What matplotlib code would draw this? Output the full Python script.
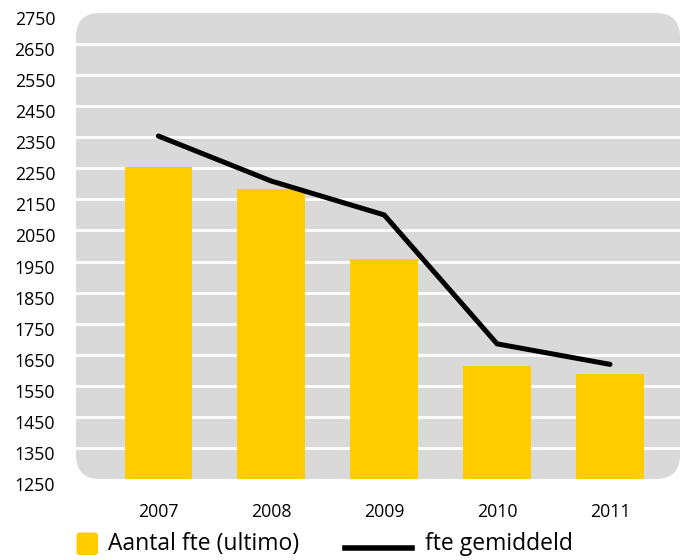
import matplotlib
matplotlib.use("Agg")
import matplotlib.pyplot as plt
from matplotlib.patches import FancyBboxPatch
from matplotlib.lines import Line2D
from matplotlib.transforms import ScaledTranslation

# fte figures per year
years = ["2007", "2008", "2009", "2010", "2011"]
fte_ultimo = [2253, 2183, 1958, 1615, 1589]
fte_gemiddeld = [2354, 2209, 2100, 1685, 1619]
y_ticks = list(range(1250, 2751, 100))

YELLOW = "#FFCC00"
GREY = "#D9D9D9"

plt.rcParams["font.family"] = ["Open Sans", "DejaVu Sans"]

W, H = 689, 560
fig = plt.figure(figsize=(W / 100, H / 100), dpi=100)

# plot area in pixels: left, top, right, bottom
L, T, R, B = 76, 13, 680, 479
ax = fig.add_axes([L / W, 1 - B / H, (R - L) / W, (B - T) / H])
ax.set_facecolor("none")
for s in ax.spines.values():
    s.set_visible(False)

# rounded grey background behind the plot area
bg = FancyBboxPatch((L / 100, (H - B) / 100), (R - L) / 100, (B - T) / 100,
                    boxstyle="round,pad=0,rounding_size=0.24",
                    transform=fig.dpi_scale_trans, facecolor=GREY,
                    edgecolor="none", zorder=-5)
fig.patches.append(bg)

x = list(range(len(years)))
ax.set_xlim(-0.73, 4.62)
ax.set_ylim(1250, 2750)

for v in y_ticks[1:-1]:
    ax.axhline(v, color="white", lw=2, zorder=1)

ax.bar(x, [v - 1250 for v in fte_ultimo], bottom=1250, width=0.6,
       color=YELLOW, zorder=2)
ax.plot(x, fte_gemiddeld, color="black", lw=3.6, solid_capstyle="round",
        solid_joinstyle="miter", zorder=3)

ax.set_yticks(y_ticks)
ax.set_yticklabels([str(v) for v in y_ticks], fontsize=12.8)
ax.set_xticks(x)
ax.set_xticklabels(years, fontsize=12.8)
ax.tick_params(axis="y", length=0, pad=15)
ax.tick_params(axis="x", length=0, pad=17)
shift = ScaledTranslation(0, -0.05, fig.dpi_scale_trans)
for lab in ax.get_yticklabels():
    lab.set_transform(lab.get_transform() + shift)

# legend row
sq = FancyBboxPatch((0.765, (H - 555) / 100), 0.215, 0.225,
                    boxstyle="round,pad=0,rounding_size=0.03",
                    transform=fig.dpi_scale_trans, facecolor=YELLOW,
                    edgecolor="none")
fig.patches.append(sq)
fig.text(108 / W, 1 - 544 / H, "Aantal fte (ultimo)", fontsize=16.5,
         va="center", ha="left")
fig.lines.append(Line2D([345 / W, 412 / W], [1 - 548 / H, 1 - 548 / H],
                        transform=fig.transFigure, color="black", lw=4))
fig.text(425 / W, 1 - 544 / H, "fte gemiddeld", fontsize=16.5,
         va="center", ha="left")

fig.savefig("out.png", dpi=100)
